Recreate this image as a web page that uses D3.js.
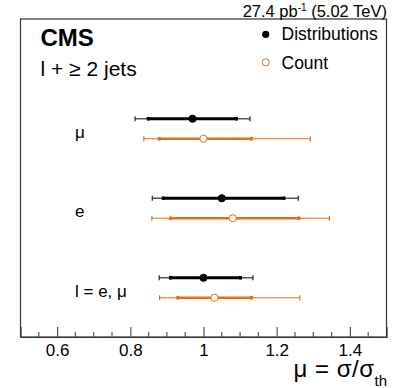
<!DOCTYPE html>
<meta charset="utf-8">
<style>
    body { margin: 0; background: #fff; }
    text { font-family: "Liberation Sans", Arial, Helvetica, sans-serif; fill: #000; }
</style>
<svg width="407" height="388"></svg>
<script src="https://d3js.org/d3.v7.min.js"></script>
<script>

    // channels, top to bottom
    var categories = ["μ", "e", "l = e, μ"];

    // "Distributions" fit: central value, inner (stat) and outer (total) intervals
    var distCentral = [0.970, 1.050, 1.000],
        distInnerLo = [0.849, 0.890, 0.910],
        distInnerHi = [1.090, 1.220, 1.101],
        distOuterLo = [0.813, 0.860, 0.879],
        distOuterHi = [1.127, 1.259, 1.135];

    // "Count" fit
    var countCentral = [1.000, 1.080, 1.030],
        countInnerLo = [0.879, 0.910, 0.930],
        countInnerHi = [1.131, 1.261, 1.131],
        countOuterLo = [0.837, 0.859, 0.880],
        countOuterHi = [1.292, 1.344, 1.263];

    var majorTicks = [0.6, 0.8, 1.0, 1.2, 1.4],
        tickLabels = ["0.6", "0.8", "1", "1.2", "1.4"];

    var orange = "#e0701c";

    var svg = d3.select("svg"),
        frame = {left: 20.5, right: 386.5, top: 19, bottom: 337};

    var x = d3.scaleLinear().domain([0.5, 1.5]).range([frame.left, frame.right]);
    var y = d3.scaleBand().domain(categories).range([89, 327.5]);

    // frame
    svg.append("rect")
        .attr("x", frame.left).attr("y", frame.top)
        .attr("width", frame.right - frame.left)
        .attr("height", frame.bottom - frame.top)
        .attr("fill", "none")
        .attr("stroke", "#333")
        .attr("stroke-width", 1.2);

    // x axis: major + minor ticks pointing up
    var xAxis = d3.axisBottom(x)
        .tickValues(majorTicks)
        .tickSize(-10)
        .tickPadding(0)
        .tickFormat(function(d, i) { return tickLabels[i]; });

    var minor = d3.range(11, 30).map(function(i) { return i * 0.05; })
        .filter(function(v) { return majorTicks.every(function(m) { return Math.abs(m - v) > 1e-6; }); });

    var gx = svg.append("g")
        .attr("transform", "translate(0," + frame.bottom + ")")
        .call(xAxis);
    gx.select(".domain").attr("stroke", "#333").attr("stroke-width", 1.2);
    gx.selectAll(".tick line").attr("stroke", "#555").attr("stroke-width", 1.2);
    gx.selectAll(".tick text")
        .attr("y", 18.5)
        .attr("dy", null)
        .style("font-size", "17px")
        .style("font-family", "'Liberation Sans', Arial, sans-serif");

    svg.append("g").selectAll("line")
        .data(minor)
        .join("line")
        .attr("x1", function(d) { return x(d); })
        .attr("x2", function(d) { return x(d); })
        .attr("y1", frame.bottom)
        .attr("y2", frame.bottom - 5)
        .attr("stroke", "#555")
        .attr("stroke-width", 1.2);

    // build rows
    function rows(central, inLo, inHi, outLo, outHi) {
        return categories.map(function(c, i) {
            return {cat: c, v: central[i], inLo: inLo[i], inHi: inHi[i], outLo: outLo[i], outHi: outHi[i]};
        });
    }

    function drawSeries(data, offset, color, outerW, innerW, filled) {
        var g = svg.append("g");
        var row = g.selectAll("g").data(data).join("g")
            .attr("transform", function(d) { return "translate(0," + (y(d.cat) + y.bandwidth() / 2 + offset) + ")"; });

        row.append("line")
            .attr("x1", function(d) { return x(d.outLo); })
            .attr("x2", function(d) { return x(d.outHi); })
            .attr("stroke", filled ? "#555" : color)
            .attr("stroke-width", outerW);
        row.selectAll(".cap").data(function(d) { return [d.outLo, d.outHi]; })
            .join("line")
            .attr("x1", function(d) { return x(d); })
            .attr("x2", function(d) { return x(d); })
            .attr("y1", -2.5).attr("y2", 2.5)
            .attr("stroke", filled ? "#222" : color)
            .attr("stroke-width", 1.2);

        row.append("line")
            .attr("x1", function(d) { return x(d.inLo); })
            .attr("x2", function(d) { return x(d.inHi); })
            .attr("stroke", color)
            .attr("stroke-width", innerW);
        row.selectAll(".icap").data(function(d) { return [d.inLo, d.inHi]; })
            .join("rect")
            .attr("x", function(d) { return x(d) - 1.5; })
            .attr("y", -1.8)
            .attr("width", 3).attr("height", 3.6)
            .attr("fill", color);

        row.append("circle")
            .attr("cx", function(d) { return x(d.v); })
            .attr("r", 3.6)
            .attr("fill", filled ? color : "#fff")
            .attr("stroke", color)
            .attr("stroke-width", 1);
    }

    drawSeries(rows(distCentral, distInnerLo, distInnerHi, distOuterLo, distOuterHi), -10, "#000", 1.6, 3, true);
    drawSeries(rows(countCentral, countInnerLo, countInnerHi, countOuterLo, countOuterHi), 10, orange, 1.1, 2.6, false);

    // channel labels
    svg.append("g").selectAll("text")
        .data(categories)
        .join("text")
        .attr("x", 75)
        .attr("y", function(d) { return y(d) + y.bandwidth() / 2 + 9; })
        .style("font-size", "17px")
        .text(function(d) { return d; });

    // header texts
    var lumi = svg.append("text")
        .attr("x", 387).attr("y", 16.5)
        .attr("text-anchor", "end")
        .style("font-size", "16.5px");
    lumi.append("tspan").text("27.4 pb");
    lumi.append("tspan").attr("dy", -6).style("font-size", "10px").text("-1");
    lumi.append("tspan").attr("dy", 6).text(" (5.02 TeV)");

    svg.append("text")
        .attr("x", 40.5).attr("y", 46)
        .style("font-size", "24px")
        .style("font-weight", "bold")
        .text("CMS");

    svg.append("text")
        .attr("x", 40.5).attr("y", 76)
        .style("font-size", "21px")
        .text("l + \u2265 2 jets");

    // legend
    var legend = svg.append("g");
    legend.append("circle").attr("cx", 265.7).attr("cy", 34.3).attr("r", 3.6).attr("fill", "#000");
    legend.append("text").attr("x", 281.5).attr("y", 40).style("font-size", "17.5px").text("Distributions");
    legend.append("circle").attr("cx", 265.7).attr("cy", 62.3).attr("r", 3.6)
        .attr("fill", "#fff").attr("stroke", orange).attr("stroke-width", 1);
    legend.append("text").attr("x", 281.5).attr("y", 69).style("font-size", "17.5px").text("Count");

    // axis title
    var title = svg.append("text")
        .attr("x", 387).attr("y", 377)
        .attr("text-anchor", "end")
        .style("font-size", "24px")
        .style("letter-spacing", "0.5px");
    title.append("tspan").text("\u03bc = \u03c3/\u03c3");
    title.append("tspan").attr("dy", 9).style("font-size", "15px").style("letter-spacing", "0").text("th");

</script>
